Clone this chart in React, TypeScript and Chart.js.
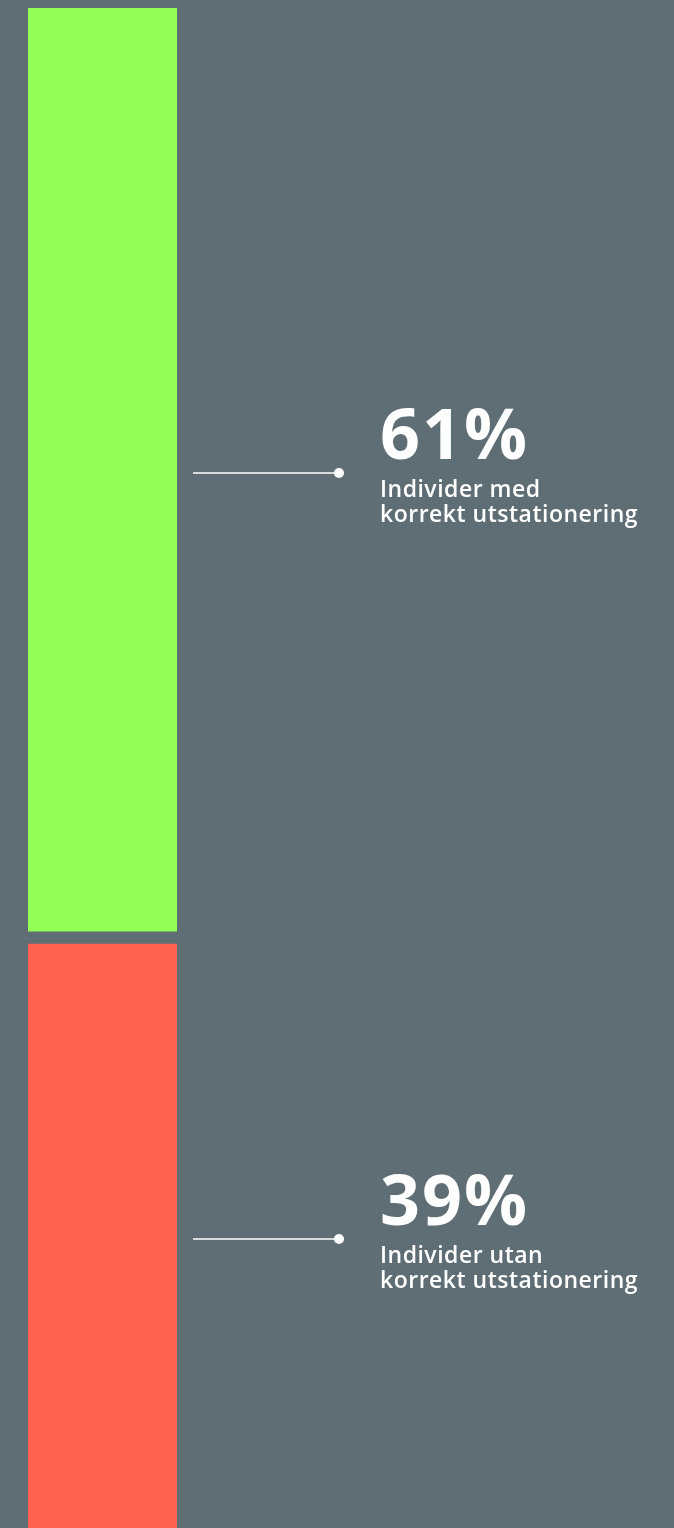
import React, { useEffect, useRef } from "react";
import { Chart, registerables } from "chart.js";

Chart.register(...registerables);

const categories = ["Utstationering"];
const seriesLabels = [
  "Individer med korrekt utstationering",
  "Individer utan korrekt utstationering",
];
const shares = [61, 39];
const percentLabels = ["61%", "39%"];
const captionLines = [
  ["Individer med", "korrekt utstationering"],
  ["Individer utan", "korrekt utstationering"],
];
const barColors = ["#92fe57", "#ff634f"];
const BG = "#5e6e74";
const gapBorders = [
  { top: 0, right: 0, left: 0, bottom: 4 },
  { top: 9, right: 0, left: 0, bottom: 0 },
];

const calloutPlugin = {
  id: "callouts",
  afterDatasetsDraw(chart: any) {
    const ctx = chart.ctx;
    ctx.save();
    chart.data.datasets.forEach((ds: any, i: number) => {
      const meta = chart.getDatasetMeta(i);
      const el = meta.data[0];
      if (!el) return;
      const { x, y, base, width } = el.getProps(["x", "y", "base", "width"], true);
      const top = Math.min(y, base) + (ds.borderWidth.top || 0);
      const bottom = Math.max(y, base) - (ds.borderWidth.bottom || 0);
      const cy = Math.round((top + bottom) / 2) + 3;
      const right = x + width / 2;
      ctx.strokeStyle = "#ffffff";
      ctx.lineWidth = 1.5;
      ctx.beginPath();
      ctx.moveTo(right + 16, cy);
      ctx.lineTo(right + 161, cy);
      ctx.stroke();
      ctx.fillStyle = "#ffffff";
      ctx.beginPath();
      ctx.arc(right + 162, cy, 5, 0, Math.PI * 2);
      ctx.fill();
      const tx = right + 203;
      ctx.textAlign = "left";
      ctx.textBaseline = "alphabetic";
      ctx.font = "bold 70px 'Open Sans'";
      (ctx as any).letterSpacing = "2px";
      ctx.fillText(percentLabels[i], tx, cy - 14);
      ctx.font = "600 23px 'Open Sans'";
      (ctx as any).letterSpacing = "0.5px";
      captionLines[i].forEach((line, j) => {
        ctx.fillText(line, tx, cy + 24 + j * 25);
      });
      (ctx as any).letterSpacing = "0px";
    });
    ctx.restore();
  },
};

export default function App() {
  const ref = useRef<HTMLCanvasElement>(null);
  useEffect(() => {
    document.body.style.background = BG;
    const chart = new Chart(ref.current!, {
      type: "bar",
      data: {
        labels: categories,
        datasets: shares.map((v, i) => ({
          label: seriesLabels[i],
          data: [v],
          backgroundColor: barColors[i],
          borderColor: BG,
          borderSkipped: false,
          borderWidth: gapBorders[i],
          barPercentage: 1,
          categoryPercentage: 1,
        })),
      },
      options: {
        animation: false,
        responsive: true,
        maintainAspectRatio: false,
        layout: { padding: { left: 20, right: 489, top: 0, bottom: 0 } },
        plugins: {
          legend: { display: false },
          tooltip: { enabled: false },
        },
        scales: {
          x: { stacked: true, display: false },
          y: { stacked: true, display: false, min: 0, max: 100, reverse: true },
        },
      },
      plugins: [calloutPlugin],
    });
    return () => chart.destroy();
  }, []);
  return (
    <div style={{ position: "relative", width: 658, height: 1520, background: BG }}>
      <canvas ref={ref} />
    </div>
  );
}
